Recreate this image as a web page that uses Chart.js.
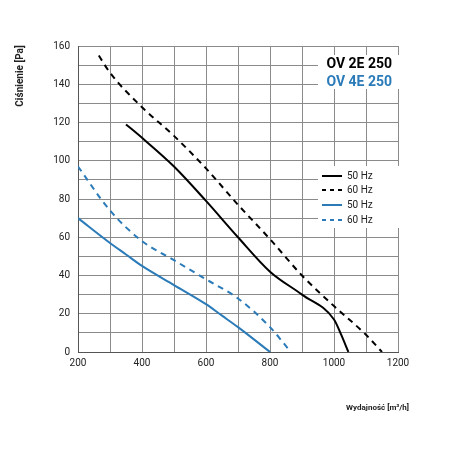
<!DOCTYPE html>
<html lang="pl">
<head>
  <meta charset="UTF-8">
  <title>OV 2E 250 / OV 4E 250</title>
  <script src="https://cdn.jsdelivr.net/npm/chart.js"></script>
  <style>
    html, body { margin: 0; padding: 0; background: #fff; }
    #wrap { width: 450px; height: 450px; }
  </style>
</head>
<body>
  <div id="wrap"><canvas id="wykres"></canvas></div>
  <script>
    // dane
    var black50 = [[350,119],[400,112],[500,97],[600,79],[700,60],[800,42],[900,30],[1000,17],[1020,10],[1045,0]];
    var black60 = [[265,155],[300,146],[400,128],[500,113],[600,96],[700,77],[800,59],[900,40],[1000,24],[1100,9],[1150,0]];
    var blue50 = [[200,70],[300,57],[350,51],[400,45],[500,35],[600,25],[650,19],[700,13],[800,0]];
    var blue60 = [[200,97],[300,74],[400,58],[500,48],[600,38],[700,28],[800,13],[865,0]];
    var legendLabels = ['50 Hz', '60 Hz', '50 Hz', '60 Hz'];
    var titles = ['OV 2E 250', 'OV 4E 250'];

    var BLUE = '#2b7bb9';
    var font = 'Roboto, "Open Sans", Arial, sans-serif';

    function pts(a) { return a.map(function (p) { return { x: p[0], y: p[1] }; }); }
    function ds(a, color, dashed, label) {
      return {
        label: label, data: pts(a), borderColor: color, borderWidth: 2,
        borderDash: dashed ? [6, 5] : [], pointRadius: 0, fill: false,
        cubicInterpolationMode: 'monotone'
      };
    }

    var extras = {
      id: 'extras',
      afterDatasetsDraw: function (chart) {
        var c = chart.ctx;
        c.save();
        c.fillStyle = '#fff';
        c.fillRect(318, 55, 86, 34);
        c.fillRect(318, 166, 86, 62);
        c.textAlign = 'right';
        c.textBaseline = 'middle';
        c.font = 'bold 14px ' + font;
        c.fillStyle = '#000';
        c.fillText(titles[0], 392, 64);
        c.fillStyle = BLUE;
        c.fillText(titles[1], 392, 82);
        var cols = ['#000', '#000', BLUE, BLUE];
        var ys = [176, 190, 205, 220];
        c.textAlign = 'left';
        c.font = '10px ' + font;
        for (var i = 0; i < 4; i++) {
          c.beginPath();
          c.strokeStyle = cols[i];
          c.lineWidth = 2;
          c.setLineDash(i % 2 ? [4, 4] : []);
          c.moveTo(322, ys[i]); c.lineTo(342, ys[i]);
          c.stroke();
          c.setLineDash([]);
          c.fillStyle = '#222';
          c.fillText(legendLabels[i], 347, ys[i]);
        }
        c.fillStyle = '#222';
        c.font = 'bold 8px ' + font;
        c.textAlign = 'right';
        c.fillText('Wydajność [m³/h]', 409, 408);
        c.translate(20, 76);
        c.rotate(-Math.PI / 2);
        c.textAlign = 'center';
        c.font = 'bold 10px ' + font;
        c.fillText('Ciśnienie [Pa]', 0, 0);
        c.restore();
      }
    };

    new Chart(document.getElementById('wykres'), {
      type: 'line',
      data: {
        datasets: [
          ds(black50, '#000', false, legendLabels[0]),
          ds(black60, '#000', true, legendLabels[1]),
          ds(blue50, BLUE, false, legendLabels[2]),
          ds(blue60, BLUE, true, legendLabels[3])
        ]
      },
      options: {
        responsive: true,
        maintainAspectRatio: false,
        animation: false,
        layout: { padding: { left: 40, right: 52, top: 46, bottom: 78 } },
        plugins: { legend: { display: false }, tooltip: { enabled: false } },
        scales: {
          x: {
            type: 'linear', min: 200, max: 1200,
            afterFit: function (s) { s.height = 20; },
            grid: { color: '#8a8a8a', lineWidth: 1, drawTicks: false },
            border: { color: '#555' },
            ticks: {
              stepSize: 100, padding: 5, color: '#222', font: { size: 10, family: font },
              callback: function (v) { return v % 200 === 0 ? v : ''; }
            }
          },
          y: {
            min: 0, max: 160,
            afterFit: function (s) { s.width = 38; },
            grid: { color: '#8a8a8a', lineWidth: 1, drawTicks: false },
            border: { color: '#555' },
            ticks: {
              stepSize: 10, padding: 8, color: '#222', font: { size: 10, family: font },
              callback: function (v) { return v % 20 === 0 ? v : ''; }
            }
          }
        }
      },
      plugins: [extras]
    });
  </script>
</body>
</html>
